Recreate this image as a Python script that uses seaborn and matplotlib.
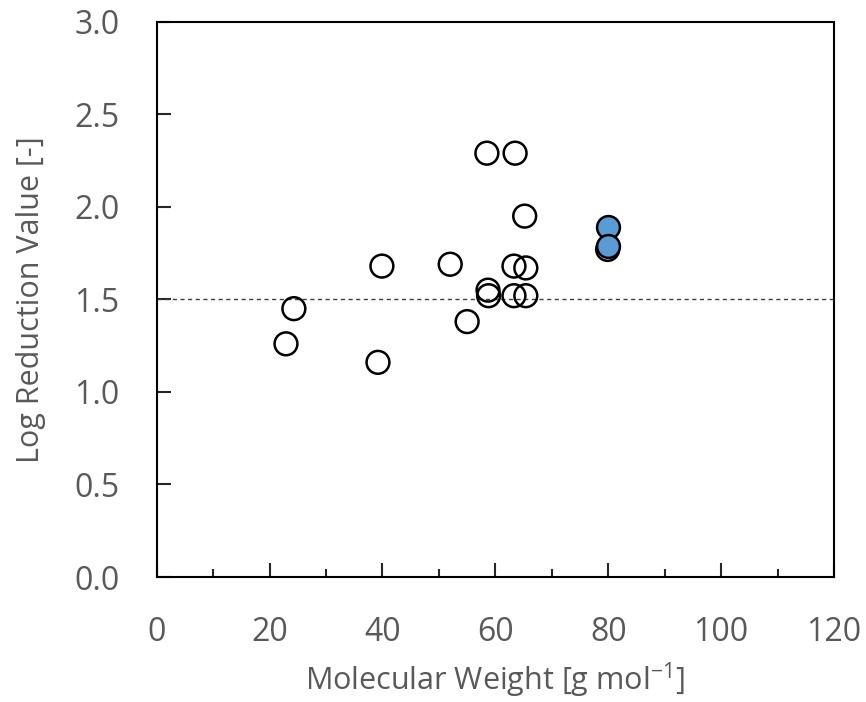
import numpy as np
import pandas as pd
import matplotlib.pyplot as plt
import seaborn as sns

# open circles
mw_open = [22.9, 24.3, 39.2, 39.9, 52.0, 55.0, 58.5, 58.7, 58.8, 63.5, 65.2,
           63.3, 65.4, 63.3, 65.4, 79.9]
lrv_open = [1.26, 1.45, 1.16, 1.68, 1.69, 1.38, 2.29, 1.55, 1.52, 2.29, 1.95,
            1.68, 1.67, 1.52, 1.52, 1.77]
# filled (blue) circles
mw_fill = [79.9, 79.9]
lrv_fill = [1.89, 1.79]
threshold = 1.5

df_open = pd.DataFrame({'mw': mw_open, 'lrv': lrv_open})
df_fill = pd.DataFrame({'mw': mw_fill, 'lrv': lrv_fill})

sns.set_style('white')
plt.rcParams['font.family'] = ['Open Sans', 'DejaVu Sans']
plt.rcParams['mathtext.default'] = 'regular'
grey = '#595959'

fig = plt.figure(figsize=(8.66, 7.02), dpi=100)
ax = fig.add_axes([0.181, 0.178, 0.782, 0.791])

ax.axhline(threshold, color='#404040', lw=1.0, ls=(0, (3, 2.5)), zorder=1)
sns.scatterplot(data=df_open, x='mw', y='lrv', ax=ax, s=270, facecolor='none',
                edgecolor='black', linewidth=1.8, zorder=2)
sns.scatterplot(data=df_fill, x='mw', y='lrv', ax=ax, s=270, color='#5b9bd5',
                edgecolor='black', linewidth=1.8, zorder=3)

ax.set_xlim(0, 120)
ax.set_ylim(0, 3.0)
ax.set_xticks(np.arange(0, 121, 20))
ax.set_xticks(np.arange(10, 120, 20), minor=True)
ax.set_yticks(np.arange(0, 3.01, 0.5))
ax.set_yticklabels(['{:.1f}'.format(v) for v in np.arange(0, 3.01, 0.5)])
ax.tick_params(axis='both', which='major', direction='in', length=10, width=1.5,
               labelsize=23, labelcolor=grey)
ax.tick_params(axis='x', which='minor', direction='in', length=6, width=1.5,
               bottom=True)
ax.tick_params(axis='x', which='major', bottom=True, pad=28)
ax.tick_params(axis='y', which='major', left=True, pad=27)
for sp in ax.spines.values():
    sp.set_color('black')
    sp.set_linewidth(1.5)

ax.set_xlabel('Molecular Weight [g mol$^{-1}$]', fontsize=22, color=grey,
              labelpad=8)
ax.set_ylabel('Log Reduction Value [-]', fontsize=22, color=grey, labelpad=20)

fig.savefig('out.png', dpi=100)
